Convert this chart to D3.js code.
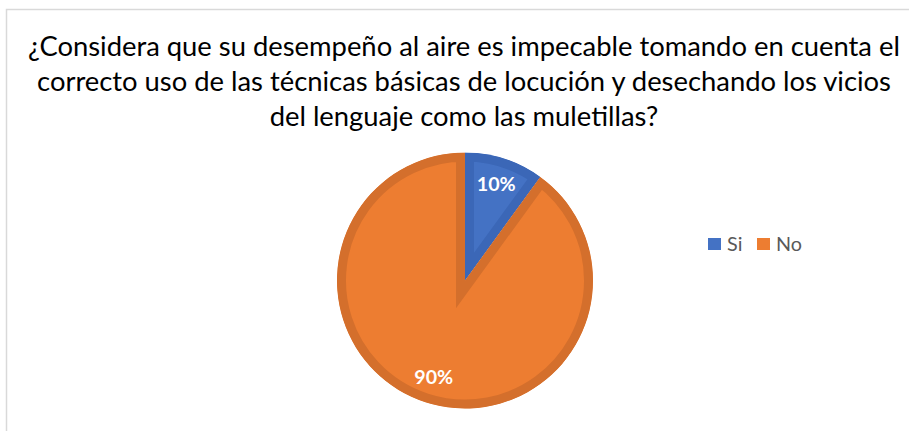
<!DOCTYPE html>
<html>
<head>
<meta charset="utf-8">
<script src="https://cdn.jsdelivr.net/npm/d3@7"></script>
<style>
  body { margin: 0; background: #fff; }
  svg { display: block; }
</style>
</head>
<body>
<div id="chart"></div>
<script>
// Chart data
const titleLines = [
    '¿Considera que su desempeño al aire es impecable tomando en cuenta el',
    'correcto uso de las técnicas básicas de locución y desechando los vicios',
    'del lenguaje como las muletillas?'
];
const categories = ['Si', 'No'];
const values = [10, 90];
const fillColors = ['#4472C4', '#ED7D31'];
const edgeColors = ['#3B67B7', '#D46F2C'];

const width = 909;
const height = 431;
const font = "Lato, 'Open Sans', sans-serif";

const svg = d3.select('#chart')
    .append('svg')
    .attr('width', width)
    .attr('height', height);

// scale a text selection's font size so the first node is w pixels wide
function fitWidth(sel, size, w) {
    const cur = sel.nodes()[0].getComputedTextLength();
    sel.style('font-size', (size * w / cur) + 'px');
}

// Chart area frame (right and bottom edges are off-screen)
svg.append('rect')
    .attr('x', 6.5)
    .attr('y', 9.5)
    .attr('width', 940)
    .attr('height', 460)
    .attr('fill', '#fff')
    .attr('stroke', '#d9d9d9')
    .attr('stroke-width', 1.5);

// Title
const baselines = [56, 91, 126];
const texts = svg.append('g').selectAll('text')
    .data(titleLines)
    .enter()
    .append('text')
    .attr('x', 464)
    .attr('y', (d, i) => baselines[i])
    .attr('text-anchor', 'middle')
    .style('font-family', font)
    .style('font-size', '24px')
    .attr('fill', '#000')
    .text(d => d);
fitWidth(texts, 24, 872);

// Pie
const cx = 465, cy = 280.5, radius = 128;
const pie = d3.pie().value(d => d.value).sort(null);
const arcs = pie(categories.map((c, i) => ({ category: c, value: values[i] })));
const arc = d3.arc().innerRadius(0).outerRadius(radius);
const labelArc = d3.arc().innerRadius(radius * 0.79).outerRadius(radius * 0.79);
const total = d3.sum(values);

const g = svg.append('g').attr('transform', `translate(${cx},${cy})`);
const defs = svg.append('defs');

arcs.forEach((d, i) => {
    defs.append('clipPath')
        .attr('id', 'clip' + i)
        .append('path')
        .attr('d', arc(d));
});

// Slices with an inner edge of darker colour
g.selectAll('path.slice')
    .data(arcs)
    .enter()
    .append('path')
    .attr('class', 'slice')
    .attr('d', arc)
    .attr('clip-path', (d, i) => `url(#clip${i})`)
    .attr('fill', (d, i) => fillColors[i])
    .attr('stroke', (d, i) => edgeColors[i])
    .attr('stroke-width', 18)
    .attr('stroke-linejoin', 'miter');

// Percentage labels
const pct = g.selectAll('text.pct')
    .data(arcs)
    .enter()
    .append('text')
    .attr('class', 'pct')
    .attr('transform', d => `translate(${labelArc.centroid(d)})`)
    .attr('text-anchor', 'middle')
    .attr('dy', '0.36em')
    .style('font-family', font)
    .style('font-size', '19px')
    .style('font-weight', 'bold')
    .attr('fill', '#fff')
    .text(d => Math.round(d.data.value / total * 100) + '%');
fitWidth(pct, 19, 39);

// Legend
const legend = svg.append('g').attr('transform', 'translate(708,238)');
const legendX = [0, 49];
const items = legend.selectAll('g')
    .data(categories)
    .enter()
    .append('g')
    .attr('transform', (d, i) => `translate(${legendX[i]},0)`);
items.append('rect')
    .attr('width', 13)
    .attr('height', 12)
    .attr('fill', (d, i) => fillColors[i]);
const legText = items.append('text')
    .attr('x', 19)
    .attr('y', 13)
    .style('font-family', font)
    .style('font-size', '18px')
    .attr('fill', '#595959')
    .text(d => d);
// fit on "No" (second item)
const noWidth = legText.nodes()[1].getComputedTextLength();
legText.style('font-size', (18 * 26 / noWidth) + 'px');
</script>
</body>
</html>
